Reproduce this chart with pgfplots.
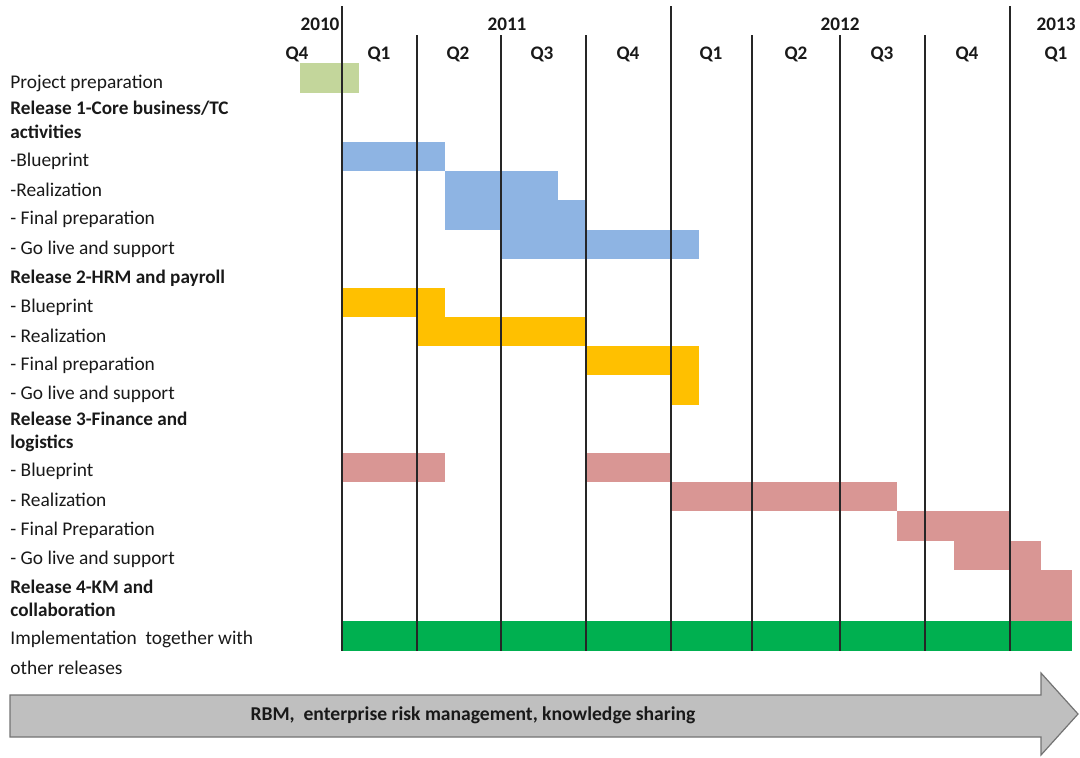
\documentclass[border=0pt]{standalone}
\usepackage{pgfplots}
\pgfplotsset{compat=1.18}
\usepackage{fontspec}
\setmainfont{Carlito}
\definecolor{lgreen}{HTML}{C3D69B}
\definecolor{lblue}{HTML}{8EB4E3}
\definecolor{gold}{HTML}{FFC000}
\definecolor{pink}{HTML}{D99694}
\definecolor{dgreen}{HTML}{00B050}
\definecolor{agray}{HTML}{BFBFBF}
\tikzset{bl/.style={font=\bfseries\fontsize{9.6}{10}\selectfont, inner sep=0pt, text=black!90},
  rg/.style={font=\fontsize{9.7}{10}\selectfont, inner sep=0pt, text=black!90, anchor=west}}
\begin{document}
\begin{tikzpicture}
\begin{axis}[name=ax, scale only axis, width=540pt, height=378.5pt,
  xmin=0, xmax=1080, ymin=0, ymax=757, y dir=reverse,
  axis lines=none, clip=false]
% Project preparation
\addplot[fill=lgreen, draw=none] coordinates {(300,63) (359,63) (359,93) (300,93)} --cycle;
% Release 1
\addplot[fill=lblue, draw=none] coordinates {(342,142) (445,142) (445,171) (342,171)} --cycle;
\addplot[fill=lblue, draw=none] coordinates {(445,171) (558,171) (558,200) (445,200)} --cycle;
\addplot[fill=lblue, draw=none] coordinates {(445,200) (586,200) (586,230) (445,230)} --cycle;
\addplot[fill=lblue, draw=none] coordinates {(501,230) (699,230) (699,259) (501,259)} --cycle;
% Release 2
\addplot[fill=gold, draw=none] coordinates {(342,288) (445,288) (445,317) (342,317)} --cycle;
\addplot[fill=gold, draw=none] coordinates {(417,317) (586,317) (586,346) (417,346)} --cycle;
\addplot[fill=gold, draw=none] coordinates {(586,346) (699,346) (699,375) (586,375)} --cycle;
\addplot[fill=gold, draw=none] coordinates {(671,375) (699,375) (699,405) (671,405)} --cycle;
% Release 3
\addplot[fill=pink, draw=none] coordinates {(342,453) (445,453) (445,482) (342,482)} --cycle;
\addplot[fill=pink, draw=none] coordinates {(586,453) (671,453) (671,482) (586,482)} --cycle;
\addplot[fill=pink, draw=none] coordinates {(671,482) (897,482) (897,511) (671,511)} --cycle;
\addplot[fill=pink, draw=none] coordinates {(897,511) (1010,511) (1010,541) (897,541)} --cycle;
\addplot[fill=pink, draw=none] coordinates {(954,541) (1041,541) (1041,570) (954,570)} --cycle;
% Release 4
\addplot[fill=pink, draw=none] coordinates {(1010,570) (1072,570) (1072,621) (1010,621)} --cycle;
% Implementation
\addplot[fill=dgreen, draw=none] coordinates {(342,621) (1072,621) (1072,651) (342,651)} --cycle;
% vertical lines
\addplot[black!85, line width=0.6pt] coordinates {(342,6) (342,651)};
\addplot[black!85, line width=0.6pt] coordinates {(671,6) (671,651)};
\addplot[black!85, line width=0.6pt] coordinates {(1010,6) (1010,651)};
\addplot[black!85, line width=0.6pt] coordinates {(417,35) (417,651)};
\addplot[black!85, line width=0.6pt] coordinates {(501,35) (501,651)};
\addplot[black!85, line width=0.6pt] coordinates {(586,35) (586,651)};
\addplot[black!85, line width=0.6pt] coordinates {(752,35) (752,651)};
\addplot[black!85, line width=0.6pt] coordinates {(840,35) (840,651)};
\addplot[black!85, line width=0.6pt] coordinates {(925,35) (925,651)};
% arrow
\addplot[fill=agray, draw=black!55, line width=0.6pt] coordinates {(10,695) (1041,695) (1041,673) (1078,714) (1041,755) (1041,737) (10,737)} --cycle;
\node[bl, font=\bfseries\fontsize{9.8}{10}\selectfont] at (axis cs:473,715) {RBM,\ \ enterprise risk management, knowledge sharing};
% years
\node[bl] at (axis cs:320,24) {2010};
\node[bl] at (axis cs:507,24) {2011};
\node[bl] at (axis cs:840,24) {2012};
\node[bl] at (axis cs:1056,24) {2013};
% quarters
\node[bl] at (axis cs:297,54) {Q4};
\node[bl] at (axis cs:379,54) {Q1};
\node[bl] at (axis cs:458,54) {Q2};
\node[bl] at (axis cs:542,54) {Q3};
\node[bl] at (axis cs:628,54) {Q4};
\node[bl] at (axis cs:711,54) {Q1};
\node[bl] at (axis cs:796,54) {Q2};
\node[bl] at (axis cs:882,54) {Q3};
\node[bl] at (axis cs:967,54) {Q4};
\node[bl] at (axis cs:1056,54) {Q1};
% row labels
\node[rg] at (axis cs:10,83) {Project preparation};
\node[rg, bl, anchor=west] at (axis cs:10,108) {Release 1-Core business/TC};
\node[rg, bl, anchor=west] at (axis cs:10,132) {activities};
\node[rg] at (axis cs:10,161) {-Blueprint};
\node[rg] at (axis cs:10,190) {-Realization};
\node[rg] at (axis cs:10,219) {- Final preparation};
\node[rg] at (axis cs:10,249) {- Go live and support};
\node[rg, bl, anchor=west] at (axis cs:10,278) {Release 2-HRM and payroll};
\node[rg] at (axis cs:10,307) {- Blueprint};
\node[rg] at (axis cs:10,336) {- Realization};
\node[rg] at (axis cs:10,365) {- Final preparation};
\node[rg] at (axis cs:10,394) {- Go live and support};
\node[rg, bl, anchor=west] at (axis cs:10,419) {Release 3-Finance and};
\node[rg, bl, anchor=west] at (axis cs:10,443) {logistics};
\node[rg] at (axis cs:10,471) {- Blueprint};
\node[rg] at (axis cs:10,500) {- Realization};
\node[rg] at (axis cs:10,530) {- Final Preparation};
\node[rg] at (axis cs:10,559) {- Go live and support};
\node[rg, bl, anchor=west] at (axis cs:10,587) {Release 4-KM and};
\node[rg, bl, anchor=west] at (axis cs:10,610) {collaboration};
\node[rg] at (axis cs:10,639) {Implementation\ \ together with};
\node[rg] at (axis cs:10,668) {other releases};
\end{axis}
\pgfresetboundingbox
\useasboundingbox (ax.south west) rectangle (ax.north east);
\end{tikzpicture}
\end{document}
